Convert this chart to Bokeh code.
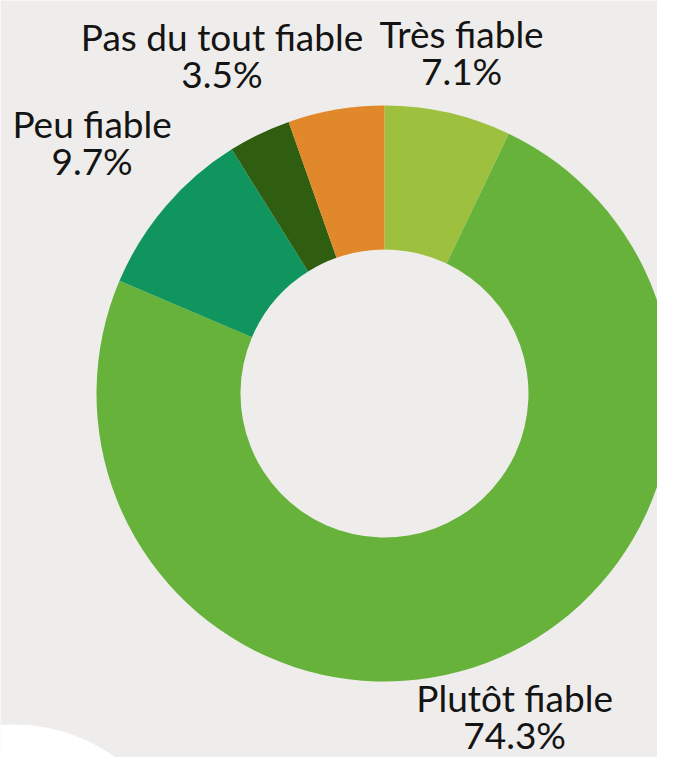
import math
from bokeh.plotting import figure
from bokeh.models import Range1d, ColumnDataSource
from bokeh.embed import file_html
from bokeh.resources import INLINE
from bokeh.core.properties import value

# ---- data ----
categories = ["Très fiable", "Plutôt fiable", "Peu fiable", "Pas du tout fiable", "Sans réponse"]
percent = [7.1, 74.3, 9.7, 3.5, 5.4]
colors = ["#9DC13F", "#66B23A", "#0F955D", "#2F5E10", "#E0882A"]
show_label = [True, True, True, True, False]

# ---- layout / style ----
W, H = 657, 757
BG = "#EFEDEB"
CX, CY = 384, H - 393
R_OUT, R_IN = 288, 144
FS = 37
CHAR_W = 0.42 * FS
HALF_BLOCK = 31.5
VOFF = 0.4 * FS          # correction for the renderer's baseline placement
label_pad = [11, 15, 17, -3, 0]   # radial gap between ring and label block
FONT = value("Lato")

p = figure(width=W, height=H, x_range=Range1d(0, W), y_range=Range1d(0, H),
           output_backend="svg", toolbar_location=None, min_border=0,
           background_fill_color=BG, border_fill_color=BG, outline_line_color=None)
p.axis.visible = False
p.grid.visible = False

# decorative white blob bottom-left
p.circle(x=[13], y=[H - 898], radius=174, fill_color="white", line_color=None)

total = sum(percent)
starts, ends, mids = [], [], []
c = 0.0
for v in percent:
    a0 = c / total
    c += v
    a1 = c / total
    starts.append(math.pi / 2 - 2 * math.pi * a0)
    ends.append(math.pi / 2 - 2 * math.pi * a1)
    mids.append(2 * math.pi * (a0 + a1) / 2)  # clockwise from top

src = ColumnDataSource(dict(x=[CX] * len(percent), y=[CY] * len(percent),
                            start=starts, end=ends, color=colors))
p.annular_wedge(x="x", y="y", inner_radius=R_IN, outer_radius=R_OUT,
                start_angle="start", end_angle="end", direction="clock",
                fill_color="color", line_color=None, source=src)

nx, ny, px, py, names, pcts = [], [], [], [], [], []
for cat, v, th, show, pad in zip(categories, percent, mids, show_label, label_pad):
    if not show:
        continue
    ux, uy = math.sin(th), math.cos(th)
    a = len(cat) * CHAR_W / 2
    d = R_OUT + pad + a * abs(ux) + HALF_BLOCK * abs(uy)
    xc, yc = CX + d * ux, CY + d * uy
    yc = max(yc, HALF_BLOCK + 8)  # keep block inside the frame
    nx.append(xc); ny.append(yc + 5.5 + VOFF); names.append(cat)
    px.append(xc); py.append(yc - HALF_BLOCK + VOFF); pcts.append(f"{v}%")

p.text(x=nx, y=ny, text=names, text_align="center", text_baseline="alphabetic",
       text_font=FONT, text_font_size=f"{FS}px", text_color="#141414")
p.text(x=px, y=py, text=pcts, text_align="center", text_baseline="alphabetic",
       text_font=FONT, text_font_size=f"{FS}px", text_color="#141414")

open("out.html", "w").write(file_html(p, INLINE))
